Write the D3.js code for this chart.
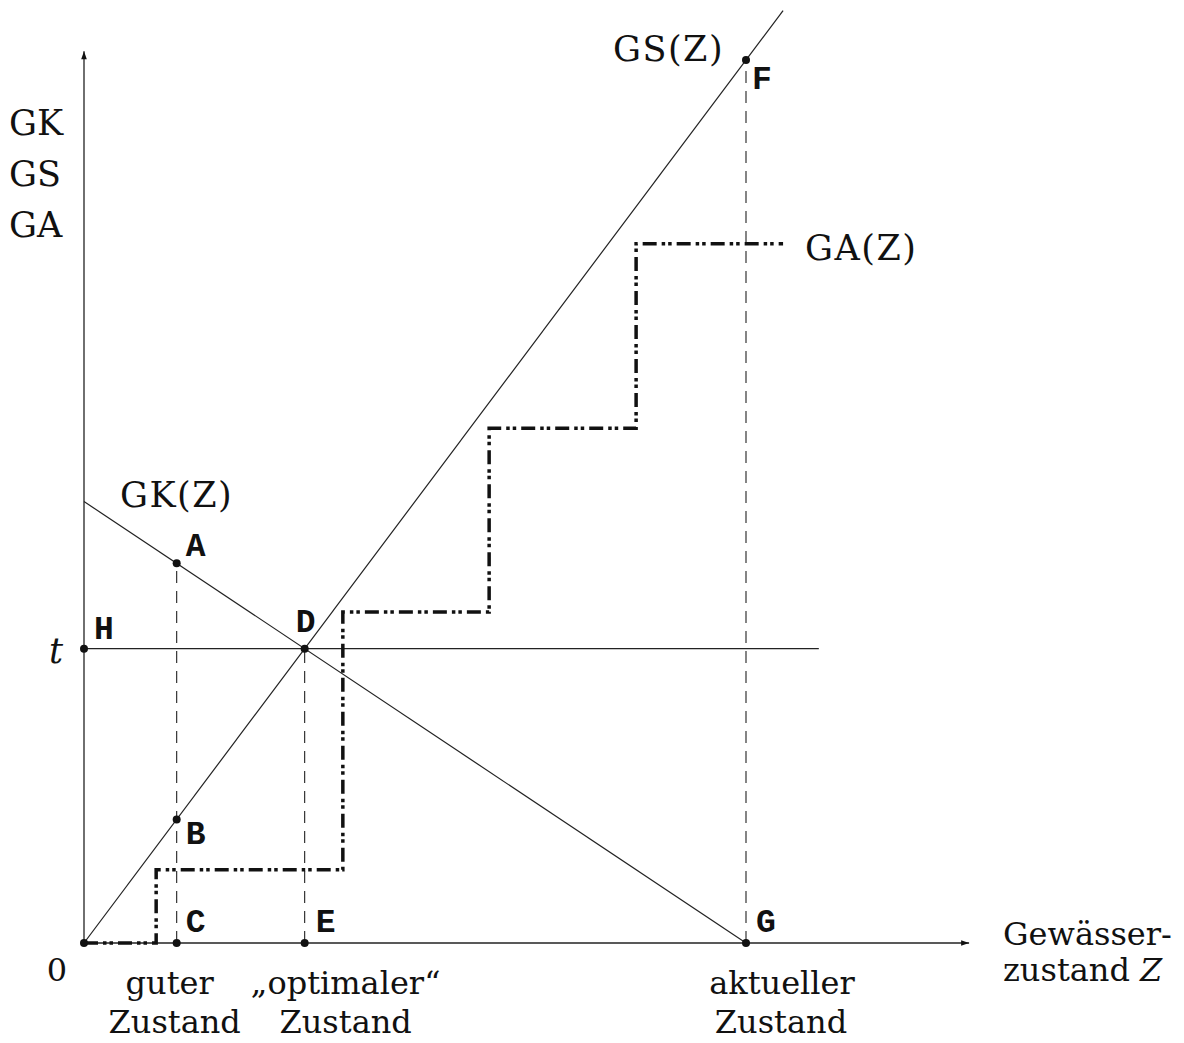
<!DOCTYPE html>
<html><head><meta charset="utf-8">
<script src="https://cdn.jsdelivr.net/npm/d3@7"></script>
<style>
html,body{margin:0;padding:0;background:#fff;}
svg{display:block;}
.lbl{font-family:"DejaVu Serif","Liberation Serif",serif;font-size:32px;fill:#111;}
.cap{font-size:35px;}
.fn{font-size:35px;letter-spacing:1.5px;}
.pt{font-family:"Liberation Mono","DejaVu Sans Mono",monospace;font-weight:bold;font-size:33px;fill:#111;}
</style></head>
<body>
<script>
// ---- data (model units) ----
const zGood = 14;          // "guter Zustand"
const zCurrent = 100;      // "aktueller Zustand"
const gkIntercept = 50;    // GK(0)
const gkSlope = -0.5;      // GK(Z) = 50 - 0.5 Z
const gsSlope = 1;         // GS(Z) = Z
const zOpt = gkIntercept / (gsSlope - gkSlope); // intersection D
const tValue = gsSlope * zOpt;
const gaStepZ = [0, 10.9, 39.1, 61.2, 83.4, 105.6];
const gaStepLevel = [0, 8.3, 37.5, 58.3, 79.2, 79.2];
const gsEndZ = 105.6;
const tLineEndZ = 111;
const xAxisEnd = 133.7;
const yAxisEnd = 101;
const yLabels = ["GK", "GS", "GA"];

const W = 1184, H = 1043;
const x = d3.scaleLinear().domain([0, 100]).range([84, 746]);
const y = d3.scaleLinear().domain([0, 100]).range([943, 60]);

const gk = z => gkIntercept + gkSlope * z;
const gs = z => gsSlope * z;

const svg = d3.select("body").append("svg").attr("width", W).attr("height", H);

const defs = svg.append("defs");
defs.append("marker").attr("id", "arr").attr("viewBox", "0 0 10 10")
  .attr("refX", 10).attr("refY", 5).attr("markerWidth", 12).attr("markerHeight", 8)
  .attr("markerUnits", "userSpaceOnUse").attr("orient", "auto")
  .append("path").attr("d", "M0,1.5 L10,5 L0,8.5 Z").attr("fill", "#111");

const line = d3.line().x(d => x(d[0])).y(d => y(d[1]));

// axes
svg.append("path").attr("d", line([[0, 0], [xAxisEnd, 0]]))
  .attr("stroke", "#222").attr("stroke-width", 1.3).attr("fill", "none").attr("marker-end", "url(#arr)");
svg.append("path").attr("d", line([[0, 0], [0, yAxisEnd]]))
  .attr("stroke", "#222").attr("stroke-width", 1.3).attr("fill", "none").attr("marker-end", "url(#arr)");

// dashed verticals
[[zGood, gk(zGood)], [zOpt, tValue], [zCurrent, gs(zCurrent)]].forEach(p => {
  svg.append("path").attr("d", line([[p[0], 0], p]))
    .attr("stroke", "#222").attr("stroke-width", 1.1).attr("stroke-dasharray", "12,8").attr("fill", "none");
});

// t line
svg.append("path").attr("d", line([[0, tValue], [tLineEndZ, tValue]]))
  .attr("stroke", "#222").attr("stroke-width", 1.2).attr("fill", "none");
// GK line
svg.append("path").attr("d", line([[0, gk(0)], [zCurrent, gk(zCurrent)]]))
  .attr("stroke", "#222").attr("stroke-width", 1.2).attr("fill", "none");
// GS line
svg.append("path").attr("d", line([[0, 0], [gsEndZ, gs(gsEndZ)]]))
  .attr("stroke", "#222").attr("stroke-width", 1.2).attr("fill", "none");

// GA step function
const gaData = gaStepZ.map((z, i) => [z, gaStepLevel[i]]);
svg.append("path").attr("d", line.curve(d3.curveStepAfter)(gaData))
  .attr("stroke", "#111").attr("stroke-width", 3.5).attr("fill", "none")
  .attr("stroke-dasharray", "14,5,3.5,3,3.5,5");
line.curve(d3.curveLinear);

// points
const points = [
  {n: "A", z: zGood, v: gk(zGood), dx: 9, dy: -7},
  {n: "B", z: zGood, v: gs(zGood), dx: 9, dy: 25},
  {n: "C", z: zGood, v: 0, dx: 9, dy: -11},
  {n: "D", z: zOpt, v: tValue, dx: -9, dy: -17},
  {n: "E", z: zOpt, v: 0, dx: 11, dy: -11},
  {n: "F", z: zCurrent, v: gs(zCurrent), dx: 6, dy: 29},
  {n: "G", z: zCurrent, v: 0, dx: 10, dy: -11},
  {n: "H", z: 0, v: tValue, dx: 10, dy: -10},
  {n: "", z: 0, v: 0}
];
svg.selectAll("circle.p").data(points).enter().append("circle")
  .attr("cx", d => x(d.z)).attr("cy", d => y(d.v)).attr("r", 4).attr("fill", "#111");
svg.selectAll("text.pt").data(points.filter(d => d.n)).enter().append("text")
  .attr("class", "pt").attr("x", d => x(d.z) + d.dx).attr("y", d => y(d.v) + d.dy).text(d => d.n);

// labels
function lbl(tx, ty, s, anchor, cls) {
  return svg.append("text").attr("class", "lbl" + (cls ? " " + cls : "")).attr("x", tx).attr("y", ty)
    .attr("text-anchor", anchor || "start").text(s);
}
yLabels.forEach((s, i) => lbl(9, 135 + i * 51, s, "start", "cap"));
lbl(120, 507, "GK(Z)", "start", "fn");
lbl(613, 61, "GS(Z)", "start", "fn");
lbl(805, 260, "GA(Z)", "start", "fn");
lbl(56, 663, "t", "middle", "cap").attr("font-style", "italic");
lbl(57, 981, "0", "middle");
lbl(1003, 945, "Gewässer-");
const zt = lbl(1003, 981, "zustand ");
zt.append("tspan").attr("font-style", "italic").text("Z");
lbl(x(zGood) - 7, 994, "guter", "middle");
lbl(x(zGood) - 2, 1033, "Zustand", "middle");
lbl(x(zOpt) + 41, 994, "„optimaler“", "middle");
lbl(x(zOpt) + 41, 1033, "Zustand", "middle");
lbl(x(zCurrent) + 36, 994, "aktueller", "middle");
lbl(x(zCurrent) + 35, 1033, "Zustand", "middle");
</script>
</body></html>
